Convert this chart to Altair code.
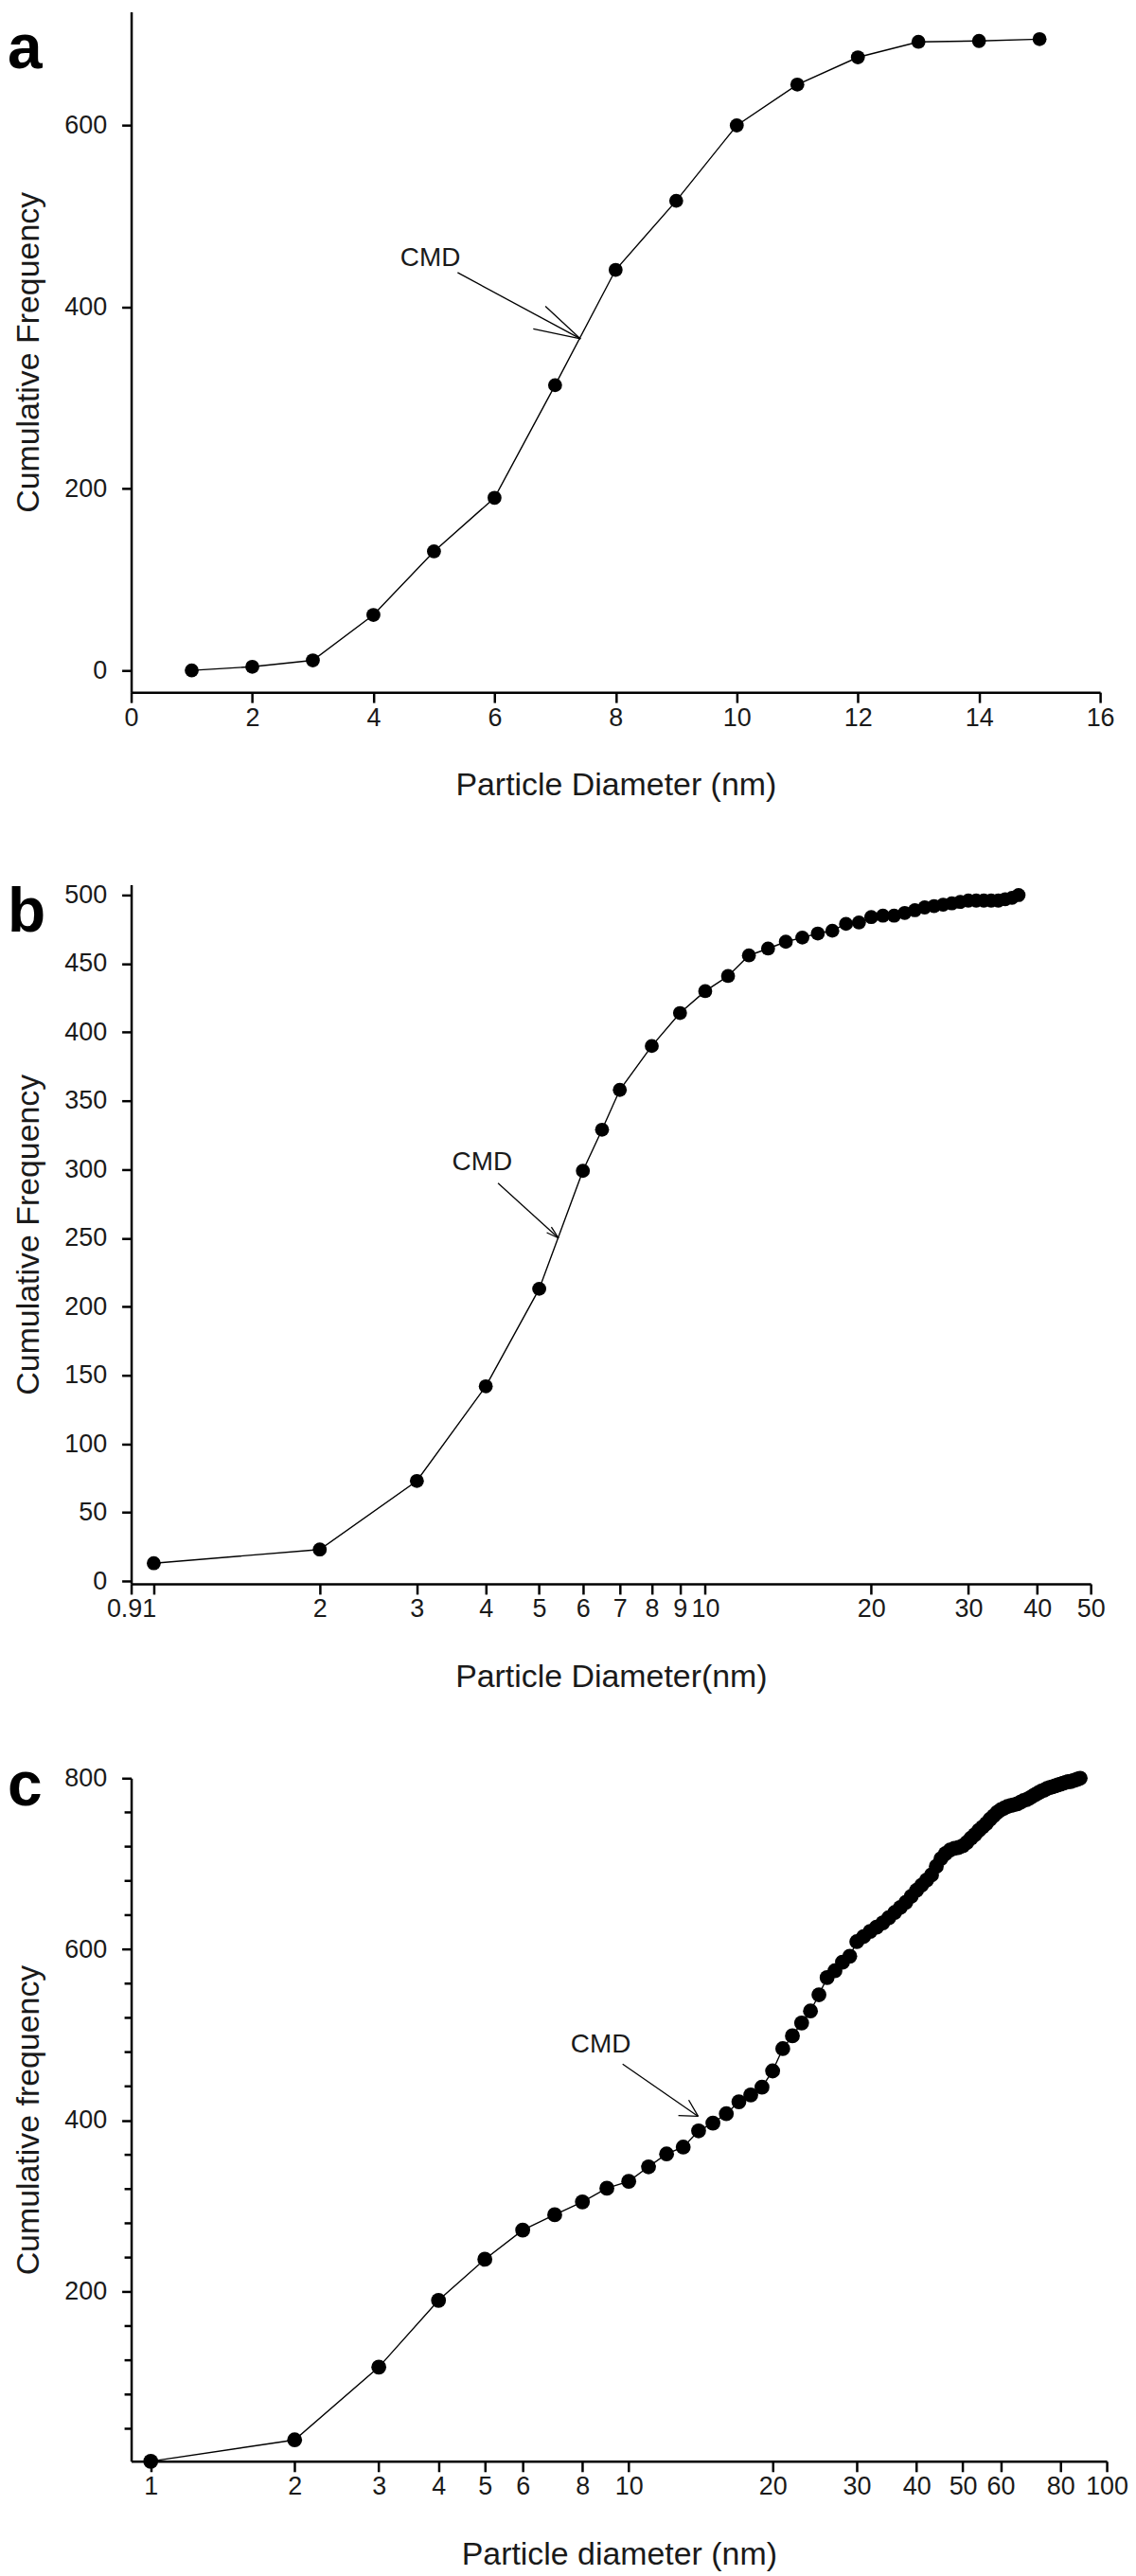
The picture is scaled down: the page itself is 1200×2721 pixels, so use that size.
import altair as alt
import pandas as pd

# ---------------- data ----------------
# Panel a (linear x)
a_x = [1, 2, 3, 4, 5, 6, 7, 8, 9, 10, 11, 12, 13, 14, 15]
a_y = [0, 4, 11, 61, 131, 190, 314, 441, 517, 600, 645, 675, 692, 693, 695]

# Panel b (log x)
b_x = [1, 2, 3, 4, 5, 6, 6.5, 7, 8, 9, 10,
       11, 12, 13, 14, 15, 16, 17, 18, 19, 20,
       21, 22, 23, 24, 25, 26, 27, 28, 29, 30, 31, 32, 33, 34, 35, 36, 37]
b_y = [13, 23, 73, 142, 213, 299, 329, 358, 390, 414, 430,
       441, 456, 461, 466, 469, 472, 474, 479, 480, 484,
       485, 485, 487, 489, 491, 492, 493, 494, 495, 496, 496, 496, 496, 496, 497, 498, 500]

# Panel c (log x)
c_x = list(range(1, 89))
c_y = [2, 27, 112, 190, 238, 272, 290, 305, 321, 329,
       346, 361, 369, 388, 397, 408, 422, 430, 439, 458,
       484, 499, 514, 528, 547, 567, 575, 585, 592, 609,
       615, 621, 626, 631, 637, 643, 649, 655, 662, 669,
       675, 681, 687, 697, 706, 712, 716, 718, 719, 721,
       725, 730, 734, 739, 743, 747, 752, 756, 760, 763,
       765, 767, 768, 769, 770, 772, 774, 775, 777, 779,
       781, 783, 785, 786, 788, 789, 790, 791, 792, 793,
       794, 795, 796, 796, 797, 798, 799, 800]

# tick values
a_xticks = [0, 2, 4, 6, 8, 10, 12, 14, 16]
a_yticks = [0, 200, 400, 600]
b_xticks = [0.91, 1, 2, 3, 4, 5, 6, 7, 8, 9, 10, 20, 30, 40, 50]
b_yticks = [0, 50, 100, 150, 200, 250, 300, 350, 400, 450, 500]
c_xticks = [1, 2, 3, 4, 5, 6, 8, 10, 20, 30, 40, 50, 60, 80, 100]
c_yticks = [200, 400, 600, 800]
c_yminor = [40, 80, 120, 160, 240, 280, 320, 360, 440, 480, 520, 560,
            640, 680, 720, 760]

# CMD annotations (data units): text anchor, arrow tail, arrow tip, two barbs
a_cmd = {"text": (4.94, 453), "tail": (5.39, 438), "tip": (7.42, 365),
         "barb1": (6.84, 401), "barb2": (6.64, 376)}
b_cmd = {"text": (3.94, 305), "tail": (4.21, 290), "tip": (5.42, 250),
         "barb1": (5.16, 254), "barb2": (5.26, 258)}
c_cmd = {"text": (8.74, 488), "tail": (9.71, 466), "tip": (13.97, 405),
         "barb1": (13.35, 424), "barb2": (12.70, 406)}

FONT = "Liberation Sans"
INK = "#1a1a1a"


def panel(xs, ys, xscale, yscale, xaxis, yaxis, width, height, cmd, label,
          label_y, msize, minor=None):
    df = pd.DataFrame({"d": xs, "f": ys})
    X = alt.X("d:Q", scale=xscale, axis=xaxis)
    Y = alt.Y("f:Q", scale=yscale, axis=yaxis)
    line = alt.Chart(df).mark_line(color="black", strokeWidth=1.4).encode(x=X, y=Y)
    pts = alt.Chart(df).mark_point(filled=True, shape="circle", size=msize,
                                   color="black", opacity=1).encode(x="d:Q", y="f:Q")

    tx, ty = cmd["tip"]
    segs = pd.DataFrame({
        "d": [cmd["tail"][0], cmd["barb1"][0], cmd["barb2"][0]],
        "f": [cmd["tail"][1], cmd["barb1"][1], cmd["barb2"][1]],
        "d2": [tx, tx, tx],
        "f2": [ty, ty, ty],
    })
    arrow = alt.Chart(segs).mark_rule(color="black", strokeWidth=1.3).encode(
        x="d:Q", y="f:Q", x2="d2:Q", y2="f2:Q")
    tdf = pd.DataFrame({"d": [cmd["text"][0]], "f": [cmd["text"][1]], "t": ["CMD"]})
    txt = alt.Chart(tdf).mark_text(font=FONT, fontSize=28, color=INK,
                                   align="center", baseline="middle").encode(
        x="d:Q", y="f:Q", text="t:N")

    ldf = pd.DataFrame({"lab": [label]})
    lab = alt.Chart(ldf).mark_text(font=FONT, fontSize=66, fontWeight="bold",
                                   color="black", align="left",
                                   baseline="alphabetic").encode(
        x=alt.value(-131), y=alt.value(label_y), text="lab:N")

    layers = [line, pts, arrow, txt, lab]
    if minor is not None:
        mdf = pd.DataFrame({"f": minor})
        layers.append(alt.Chart(mdf).mark_rule(color="black", strokeWidth=2.5).encode(
            y="f:Q", x=alt.value(-7), x2=alt.value(0)))
    return alt.layer(*layers).properties(width=width, height=height)


def xax(values, title, expr):
    return alt.Axis(values=values, title=title, tickSize=11, labelPadding=3,
                    titlePadding=42, labelFlush=False, labelOverlap=False,
                    grid=False, labelExpr=expr)


def yax(values, title):
    return alt.Axis(values=values, title=title, tickSize=10, labelPadding=16,
                    titlePadding=20, grid=False, format="d", labelOverlap=False)


chart_a = panel(
    a_x, a_y,
    alt.Scale(domain=[0, 16], nice=False, zero=False),
    alt.Scale(domain=[-24, 725], nice=False, zero=False),
    xax(a_xticks, "Particle Diameter (nm)", "format(datum.value, 'd')"),
    yax(a_yticks, "Cumulative Frequency"),
    1027, 721, a_cmd, "a", 60, 220)

chart_b = panel(
    b_x, b_y,
    alt.Scale(type="log", domain=[0.91, 50], nice=False),
    alt.Scale(domain=[-2, 507.6], nice=False, zero=False),
    xax(b_xticks, "Particle Diameter(nm)",
        "datum.value == 1 ? '' : (datum.value < 1 ? '0.91' : format(datum.value, 'd'))"),
    yax(b_yticks, "Cumulative Frequency"),
    1017, 741, b_cmd, "b", 50, 220)

chart_c = panel(
    c_x, c_y,
    alt.Scale(type="log", domain=[0.91, 100], nice=False),
    alt.Scale(domain=[2, 800], nice=False, zero=False),
    xax(c_xticks, "Particle diameter (nm)", "format(datum.value, 'd')"),
    yax(c_yticks, "Cumulative frequency"),
    1034, 724, c_cmd, "c", 29, 250, minor=c_yminor)

chart = alt.vconcat(
    chart_a,
    alt.vconcat(chart_b, chart_c, spacing=66),
    spacing=85,
).properties(padding=0).configure_axis(
    domainColor="black", domainWidth=2.5, tickColor="black", tickWidth=2.5,
    labelFont=FONT, labelFontSize=27, labelColor=INK,
    titleFont=FONT, titleFontSize=34, titleFontWeight="normal", titleColor=INK,
).configure_view(stroke=None)

chart.save("out.html", embed_options={"renderer": "svg", "actions": False})
